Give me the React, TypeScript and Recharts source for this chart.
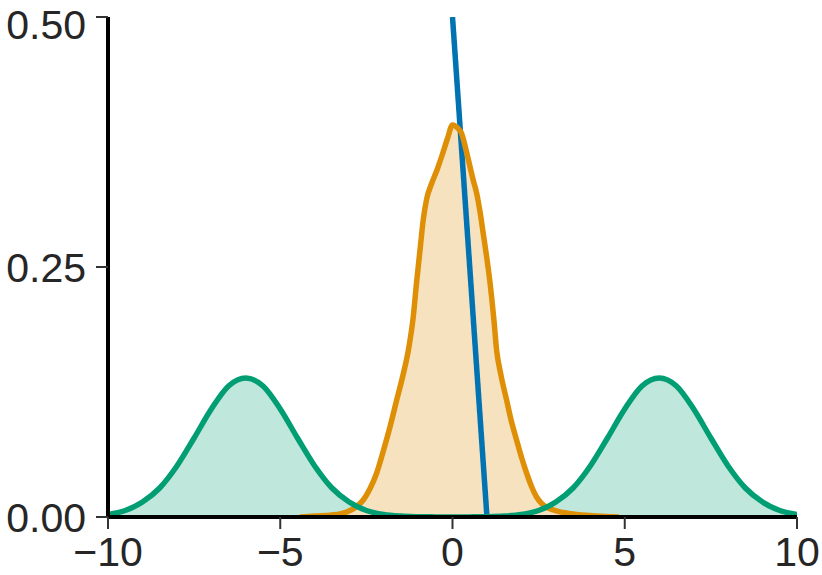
import { Area, ComposedChart, Line, XAxis, YAxis } from "recharts";

const xTicks = [-10, -5, 0, 5, 10];
const yTicks = [0, 0.25, 0.5];

// two bumps at -6 and 6
const bimodal = [
  { x: -10, y: 0.0025 }, { x: -9.5, y: 0.0065 }, { x: -9, y: 0.015 }, { x: -8.5, y: 0.029 },
  { x: -8, y: 0.051 }, { x: -7.5, y: 0.079 }, { x: -7, y: 0.108 }, { x: -6.5, y: 0.131 },
  { x: -6, y: 0.139 }, { x: -5.5, y: 0.131 }, { x: -5, y: 0.108 }, { x: -4.5, y: 0.079 },
  { x: -4, y: 0.051 }, { x: -3.5, y: 0.029 }, { x: -3, y: 0.015 }, { x: -2.5, y: 0.0065 },
  { x: -2, y: 0.0025 }, { x: -1.5, y: 0.0009 }, { x: -1, y: 0.0003 }, { x: -0.5, y: 0.0001 },
  { x: 0, y: 0 }, { x: 0.5, y: 0.0001 }, { x: 1, y: 0.0003 }, { x: 1.5, y: 0.0009 },
  { x: 2, y: 0.0025 }, { x: 2.5, y: 0.0065 }, { x: 3, y: 0.015 }, { x: 3.5, y: 0.029 },
  { x: 4, y: 0.051 }, { x: 4.5, y: 0.079 }, { x: 5, y: 0.108 }, { x: 5.5, y: 0.131 },
  { x: 6, y: 0.139 }, { x: 6.5, y: 0.131 }, { x: 7, y: 0.108 }, { x: 7.5, y: 0.079 },
  { x: 8, y: 0.051 }, { x: 8.5, y: 0.029 }, { x: 9, y: 0.015 }, { x: 9.5, y: 0.0065 },
  { x: 10, y: 0.0025 },
];

const central = [
  { x: -4.43, y: 0 }, { x: -4.0, y: 0.001 }, { x: -3.5, y: 0.002 }, { x: -3.07, y: 0.005 },
  { x: -2.8, y: 0.01 }, { x: -2.59, y: 0.017 }, { x: -2.4, y: 0.028 }, { x: -2.2, y: 0.044 },
  { x: -2.0, y: 0.067 }, { x: -1.8, y: 0.092 }, { x: -1.62, y: 0.117 }, { x: -1.45, y: 0.14 },
  { x: -1.28, y: 0.167 }, { x: -1.14, y: 0.2 }, { x: -1.05, y: 0.232 }, { x: -0.94, y: 0.268 },
  { x: -0.85, y: 0.297 }, { x: -0.75, y: 0.318 }, { x: -0.6, y: 0.334 }, { x: -0.45, y: 0.347 },
  { x: -0.3, y: 0.362 }, { x: -0.15, y: 0.378 }, { x: 0, y: 0.392 }, { x: 0.15, y: 0.389 },
  { x: 0.27, y: 0.383 }, { x: 0.4, y: 0.366 }, { x: 0.51, y: 0.35 }, { x: 0.6, y: 0.337 },
  { x: 0.7, y: 0.324 }, { x: 0.8, y: 0.305 }, { x: 0.89, y: 0.284 }, { x: 1.0, y: 0.258 },
  { x: 1.09, y: 0.234 }, { x: 1.2, y: 0.198 }, { x: 1.28, y: 0.167 }, { x: 1.4, y: 0.143 },
  { x: 1.57, y: 0.117 }, { x: 1.7, y: 0.097 }, { x: 1.86, y: 0.077 }, { x: 2.0, y: 0.06 },
  { x: 2.15, y: 0.044 }, { x: 2.3, y: 0.03 }, { x: 2.44, y: 0.02 }, { x: 2.6, y: 0.013 },
  { x: 2.93, y: 0.007 }, { x: 3.5, y: 0.003 }, { x: 4.2, y: 0.001 }, { x: 4.83, y: 0 },
];

const steepLine = [
  { x: 0, y: 0.5 },
  { x: 1, y: 0 },
];

const GREEN = "#029E73";
const ORANGE = "#DE8F05";
const BLUE = "#0173B2";

const tickStyle = { fontSize: 41, fill: "#262626", fontFamily: "'Liberation Sans', Arial, sans-serif" };

export default function App() {
  return (
    <div style={{ position: "absolute", left: 0, top: 0, background: "#fff" }}>
      <ComposedChart width={822} height={575} margin={{ top: 17, right: 25, bottom: 0, left: 0 }}>
        <XAxis
          type="number"
          dataKey="x"
          domain={[-10, 10]}
          ticks={xTicks}
          allowDataOverflow
          height={58}
          tickSize={12}
          tickMargin={8}
          tick={tickStyle}
          tickFormatter={(v: number) => (v < 0 ? `\u2212${Math.abs(v)}` : `${v}`)}
          axisLine={{ stroke: "#000", strokeWidth: 4 }}
          tickLine={{ stroke: "#333", strokeWidth: 2 }}
        />
        <YAxis
          type="number"
          domain={[0, 0.5]}
          ticks={yTicks}
          allowDataOverflow
          width={108}
          tickSize={12}
          tickMargin={10}
          tick={tickStyle}
          tickFormatter={(v: number) => v.toFixed(2)}
          axisLine={{ stroke: "#000", strokeWidth: 4 }}
          tickLine={{ stroke: "#333", strokeWidth: 2 }}
        />
        <Area
          data={bimodal}
          dataKey="y"
          type="monotone"
          stroke="none"
          fill="#BFE7DB"
          fillOpacity={1}
          isAnimationActive={false}
        />
        <Area
          data={central}
          dataKey="y"
          type="monotone"
          stroke="none"
          fill="#F7E2C0"
          fillOpacity={1}
          isAnimationActive={false}
        />
        <Line
          data={steepLine}
          dataKey="y"
          type="linear"
          stroke={BLUE}
          strokeWidth={5.5}
          dot={false}
          isAnimationActive={false}
        />
        <Line
          data={central}
          dataKey="y"
          type="monotone"
          stroke={ORANGE}
          strokeWidth={5.5}
          dot={false}
          isAnimationActive={false}
        />
        <Line
          data={bimodal}
          dataKey="y"
          type="monotone"
          stroke={GREEN}
          strokeWidth={5.5}
          dot={false}
          isAnimationActive={false}
        />
      </ComposedChart>
    </div>
  );
}
